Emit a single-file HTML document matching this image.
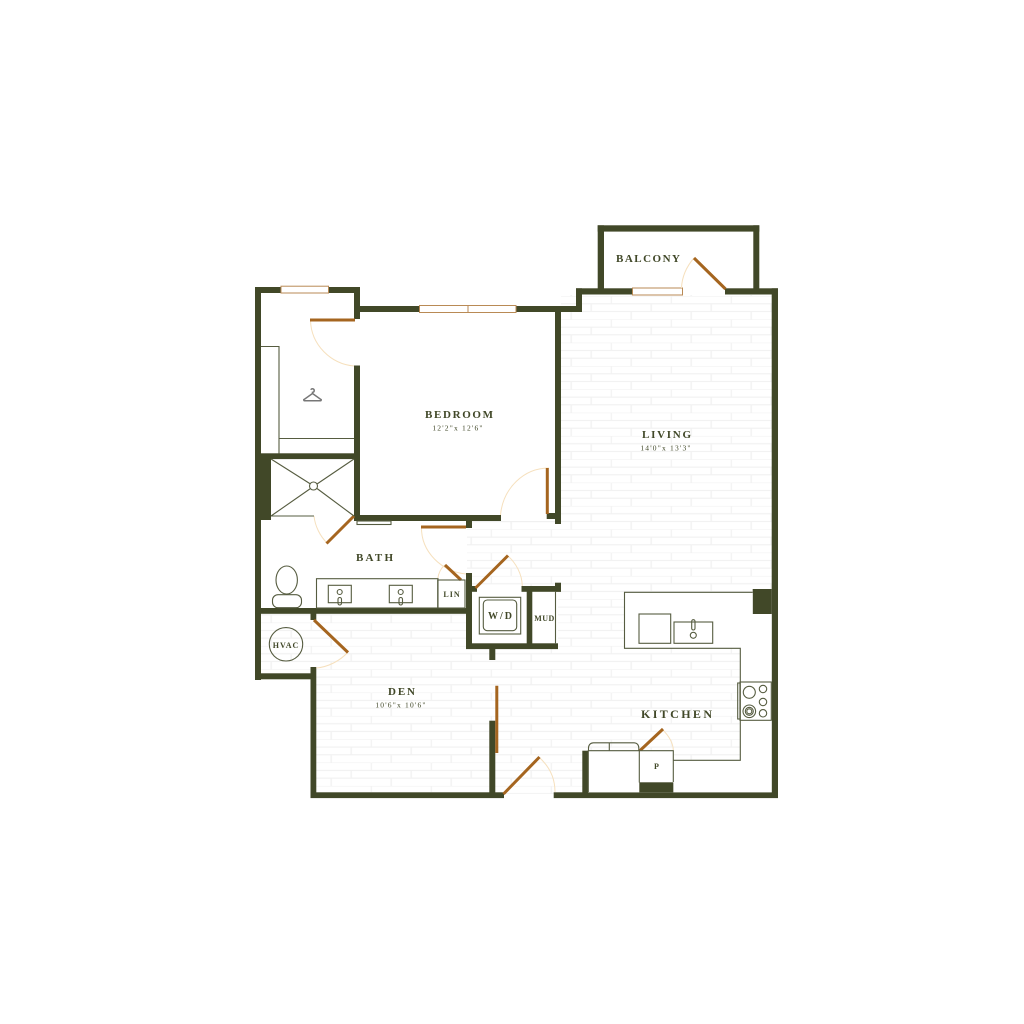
<!DOCTYPE html>
<html><head><meta charset="utf-8"><style>
html,body{margin:0;padding:0;background:#fff;width:1024px;height:1024px;overflow:hidden}
svg{display:block}
text{font-family:"Liberation Serif",serif;fill:#414828;text-anchor:middle}
.l{font-weight:bold;font-size:11px}
.d{font-size:7.5px;letter-spacing:1.2px}
.s{font-weight:bold;font-size:8px;letter-spacing:1px}
.t{fill:none;stroke:#565c40;stroke-width:1.1}
.w{fill:#414828}
.b{stroke:#a5651f;stroke-width:3;fill:none}
.a{stroke:#f6e0bd;stroke-width:1;fill:none}
.win{fill:#fff;stroke:#b98a55;stroke-width:1}
</style></head><body>
<svg width="1024" height="1024" viewBox="0 0 1024 1024" xmlns="http://www.w3.org/2000/svg">
<defs>
<pattern id="br" patternUnits="userSpaceOnUse" x="550.7" y="296" width="60" height="23.33">
<path d="M0 0H60M0 7.78H60M0 15.56H60" stroke="#efefef" stroke-width="1" fill="none"/>
<path d="M0.5 0V7.78M40.5 7.78V15.56M20.5 15.56V23.33" stroke="#f2f2f2" stroke-width="1.4" fill="none"/>
</pattern>
</defs>
<rect width="1024" height="1024" fill="#fff"/>

<!-- floor -->
<path d="M561 295H772V589H752V592H625V648H740V760H673V792H582V750H582V792H316V679H261V614H466V649H558V592H561V524H467V521H501V521H561Z" fill="url(#br)"/>
<rect x="467" y="521" width="94" height="66" fill="url(#br)"/>
<rect x="532" y="592" width="24" height="51" fill="#fff"/>
<rect x="472" y="592" width="55" height="51" fill="#fff"/>
<rect x="504" y="792" width="50" height="2" fill="url(#br)"/>

<!-- walls -->
<g class="w">
<rect x="255" y="287" width="6" height="393"/>
<rect x="255" y="287" width="105" height="6"/>
<rect x="354" y="287" width="6" height="32"/>
<rect x="360" y="306" width="222" height="6"/>
<rect x="354" y="365.5" width="6" height="155.500"/>
<rect x="255" y="453.300" width="105" height="5.800"/>
<rect x="261" y="459" width="10" height="61"/>
<rect x="354" y="515" width="147" height="6"/>
<rect x="466" y="521" width="6" height="7"/>
<rect x="255" y="608" width="217" height="5.800"/>
<rect x="466" y="573" width="6" height="76"/>
<rect x="466" y="586" width="11" height="5.800"/>
<rect x="521.500" y="586" width="39.500" height="5.800"/>
<rect x="555" y="582.700" width="6" height="9"/>
<rect x="526.700" y="591" width="5.600" height="53"/>
<rect x="466" y="643.300" width="92" height="5.800"/>
<rect x="489.300" y="649" width="6" height="11"/>
<rect x="255" y="673.300" width="61" height="6"/>
<rect x="310.500" y="667" width="5.800" height="131"/>
<rect x="310.500" y="613" width="5.800" height="7"/>
<rect x="310.500" y="792.300" width="193.500" height="5.800"/>
<rect x="553.700" y="792.300" width="224.300" height="5.800"/>
<rect x="489.300" y="720.700" width="6" height="72"/>
<rect x="555" y="309" width="6" height="215"/>
<rect x="546.700" y="513" width="9" height="6"/>
<rect x="576" y="288.300" width="6" height="23.700"/>
<rect x="576" y="288.300" width="57" height="6.200"/>
<rect x="597.700" y="225.300" width="6.300" height="64"/>
<rect x="597.700" y="225.300" width="161.600" height="6.300"/>
<rect x="753.300" y="225.300" width="6" height="64"/>
<rect x="725" y="288.300" width="53" height="6.200"/>
<rect x="771.700" y="288.300" width="6.300" height="509.700"/>
<rect x="752.700" y="589" width="19" height="25.300"/>
<rect x="582.300" y="750.700" width="6" height="42"/>
<rect x="639.300" y="782.300" width="34" height="10"/>
</g>

<!-- windows -->
<rect class="win" x="281" y="286.200" width="47.500" height="6.800"/>
<rect class="win" x="419.500" y="305.500" width="96.500" height="7"/>
<path d="M468 305.500V312.500" stroke="#b98a55" stroke-width="1"/>
<rect class="win" x="632.500" y="288" width="50" height="7"/>

<!-- doors -->
<path class="a" d="M310.500 320C311 345 331 364 354 366"/>
<path class="b" d="M310 320H355"/>
<path class="a" d="M314 516C315 526 320 536 327 543"/>
<path class="b" d="M326.500 543.500L354 516"/>
<path class="a" d="M421.500 527C421 552 442 572 466 574"/>
<path class="b" d="M421 527H466"/>
<path class="a" d="M437.700 579C438.500 573 441 568 445 565"/>
<path class="b" d="M445 565L461 580"/>
<path class="a" d="M507.700 555.700C516 563 522 574 522.300 586"/>
<path class="b" d="M475.500 588L508 555.500"/>
<path class="a" d="M348 652C340 661 328 667 316.300 668"/>
<path class="b" d="M314 620L348 652.500"/>
<path class="a" d="M549 468C524 468 503 488 500.500 515"/>
<path d="M547.300 468V514" stroke="#a5651f" stroke-width="3"/>
<path class="a" d="M694 258C687 266 682 276 681.500 288"/>
<path class="b" d="M694 258L725.500 289"/>
<path d="M496.800 685.700V753" stroke="#a5651f" stroke-width="3"/>
<path class="a" d="M539 757.300C549 766 555 778 555 792"/>
<path class="b" d="M503.500 794L539.500 757"/>
<path class="a" d="M662.300 729.300C668 735 673 742 673.300 750"/>
<path class="b" d="M639 751.500L663 729"/>

<!-- closet -->
<path class="t" d="M261 346.500H279V453.500M279 438.500H354"/>
<g fill="none" stroke="#777" stroke-width="1.500">
<path d="M310.800 389.800a1.800 1.800 0 1 1 1.700 2.600V393.500L304.300 399.300a.7 .7 0 0 0 .4 1.400H320.300a.7 .7 0 0 0 .4-1.400L312.500 393.500"/>
</g>

<!-- shower -->
<path class="t" d="M271 459L310.500 484M317 488.500L354 516M354 459L317 484M310.500 488.500L271 516M271 516H314"/>
<circle class="t" cx="313.500" cy="486" r="4"/>
<rect class="t" x="357" y="521" width="34" height="3.500"/>

<!-- bath -->
<ellipse class="t" cx="286.700" cy="580" rx="10.700" ry="14"/>
<rect class="t" x="272.500" y="594.700" width="29" height="13" rx="5.500"/>
<rect class="t" x="316.500" y="578.700" width="121.500" height="29.300"/>
<rect class="t" x="328.300" y="585.300" width="23" height="17.400"/>
<circle class="t" cx="339.700" cy="592" r="2.500"/>
<rect class="t" x="338" y="597.500" width="3.500" height="7.500" rx="1.700"/>
<rect class="t" x="389.300" y="585.300" width="23" height="17.400"/>
<circle class="t" cx="400.700" cy="592" r="2.500"/>
<rect class="t" x="399" y="597.500" width="3.500" height="7.500" rx="1.700"/>
<rect class="t" x="437.700" y="580" width="27.300" height="28" fill="#fff"/>

<!-- hvac -->
<circle class="t" cx="286" cy="644.300" r="16.700" fill="#fff"/>

<!-- wd / mud -->
<rect class="t" x="479.300" y="597.300" width="41.400" height="36.700"/>
<rect class="t" x="483.300" y="600" width="33.400" height="30.700" rx="4"/>
<path class="t" d="M555.500 591V643.300"/>

<!-- kitchen -->
<path d="M625 592.500H752.700V614H771.700V792.300H673.300V760.300H740.300V648.300H625Z" fill="#fff"/>
<path class="t" d="M752.700 592.300H624.500V648.300H740.300V760.300H673.300"/>
<rect class="t" x="639" y="614" width="31.700" height="29.300"/>
<rect class="t" x="674" y="622" width="38.700" height="21.300"/>
<circle class="t" cx="693.300" cy="635.300" r="3"/>
<rect class="t" x="691.700" y="619.700" width="3.300" height="10.300" rx="1.600"/>
<rect class="t" x="740" y="682" width="31.300" height="38.300" fill="#fff"/>
<rect class="t" x="737.700" y="683" width="2.300" height="36"/>
<circle class="t" cx="749.300" cy="692.300" r="6"/>
<circle class="t" cx="749.300" cy="711.300" r="6.300"/>
<circle class="t" cx="749.300" cy="711.300" r="4"/>
<circle class="t" cx="749.300" cy="711.300" r="2.500"/>
<circle class="t" cx="763" cy="689" r="3.700"/>
<circle class="t" cx="763" cy="702" r="3.700"/>
<circle class="t" cx="763" cy="713.300" r="3.700"/>
<rect x="588.300" y="750.700" width="85" height="41.600" fill="#fff"/>
<path class="t" d="M588.300 792V750.700H673.300V782M639.300 750.700V782.500M588.500 750.700V748C588.500 745 590.500 742.800 593.500 742.800H634C637 742.800 638.800 745 638.800 748V750.700M609.300 742.800V750.700"/>
<rect class="w" x="639.300" y="782.300" width="34" height="10"/>

<!-- labels -->
<text class="l" x="459" y="418" textLength="68">BEDROOM</text>
<text class="d" x="458" y="430.500">12'2"x 12'6"</text>
<text class="l" x="666.500" y="438" textLength="49">LIVING</text>
<text class="d" x="666" y="450.500">14'0"x 13'3"</text>
<text class="l" x="374.500" y="561" textLength="37">BATH</text>
<text class="l" x="401.500" y="695" textLength="27">DEN</text>
<text class="d" x="401" y="707.500">10'6"x 10'6"</text>
<text class="l" style="font-size:12px" x="676.500" y="718" textLength="71">KITCHEN</text>
<text class="l" x="648" y="262" textLength="64">BALCONY</text>
<text class="s" x="286" y="648">HVAC</text>
<text class="s" x="452" y="597">LIN</text>
<text class="l" style="font-size:10px" x="500" y="619" textLength="24">W/D</text>
<text class="s" x="544.500" y="621" style="letter-spacing:.5px">MUD</text>
<text class="s" x="657" y="769">P</text>
</svg>
</body></html>
